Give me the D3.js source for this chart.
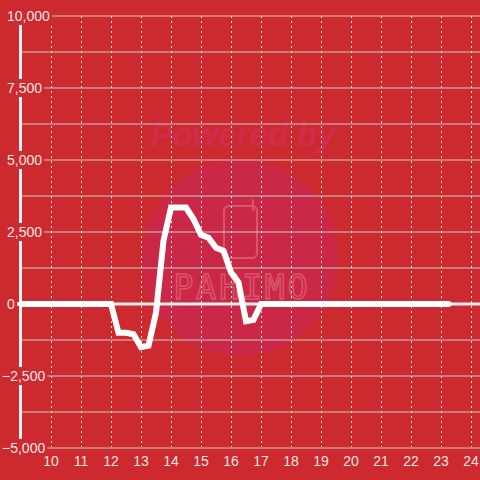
<!DOCTYPE html>
<html>
<head>
<meta charset="utf-8">
<script src="https://cdn.jsdelivr.net/npm/d3@7"></script>
<style>
  html, body { margin: 0; padding: 0; background: #cc2a2e; }
  svg { display: block; }
</style>
</head>
<body>
<div id="chart"></div>
<script>
// data
const hours = [9, 12, 12.25, 12.5, 12.75, 13, 13.25, 13.5, 13.75, 14, 14.25, 14.5, 14.75,
  15, 15.25, 15.5, 15.75, 16, 16.25, 16.5, 16.75, 17, 23.25];
const values = [0, 0, -1000, -1000, -1050, -1500, -1450, -300, 2200, 3350, 3350, 3350, 2950,
  2400, 2300, 1950, 1850, 1100, 750, -600, -550, 0, 0];
const xTicks = [10, 11, 12, 13, 14, 15, 16, 17, 18, 19, 20, 21, 22, 23, 24];
const yTicks = [10000, 7500, 5000, 2500, 0, -2500, -5000];
const yGrid = [10000, 8750, 7500, 6250, 5000, 3750, 2500, 1250, 0, -1250, -2500, -3750, -5000];

const width = 480, height = 480;
const bg = '#cc2a2e';
const font = '"Liberation Sans", Arial, sans-serif';

const svg = d3.select('#chart').append('svg')
  .attr('width', width)
  .attr('height', height);

svg.append('rect').attr('width', width).attr('height', height).attr('fill', bg);

const x = d3.scaleLinear().domain([9, 24.3]).range([21, 480]);
const y = d3.scaleLinear().domain([-5000, 10000]).range([448, 16]);

// watermark
const wm = svg.append('g').attr('class', 'watermark');
wm.append('circle').attr('cx', 240).attr('cy', 258).attr('r', 98).attr('fill', '#cb2848');
wm.append('text')
  .attr('x', 243).attr('y', 146)
  .attr('text-anchor', 'middle')
  .style('font', 'italic bold 33px ' + font)
  .attr('fill', '#d02c4b')
  .text('Powered by');
wm.append('rect')
  .attr('x', 224).attr('y', 206).attr('width', 33).attr('height', 52).attr('rx', 5)
  .attr('fill', 'none').attr('stroke', '#d9566a').attr('stroke-width', 2);
wm.append('line')
  .attr('x1', 253).attr('y1', 200).attr('x2', 253).attr('y2', 210)
  .attr('stroke', '#d9566a').attr('stroke-width', 2).attr('stroke-linecap', 'round');
wm.append('text')
  .attr('x', 242).attr('y', 299)
  .attr('text-anchor', 'middle')
  .style('font', '33px "DejaVu Sans Mono", monospace')
  .attr('letter-spacing', 3)
  .attr('fill', 'none').attr('stroke', '#d9566a').attr('stroke-width', 1.5)
  .text('PAHIMO');

// horizontal grid
svg.append('g').selectAll('line')
  .data(yGrid)
  .enter().append('line')
  .attr('x1', 21).attr('x2', width)
  .attr('y1', d => y(d)).attr('y2', d => y(d))
  .attr('stroke', '#c9c9c9').attr('stroke-width', 1);

// vertical dashed grid
svg.append('g').selectAll('line')
  .data(xTicks)
  .enter().append('line')
  .attr('x1', d => Math.round(x(d)) + 0.5).attr('x2', d => Math.round(x(d)) + 0.5)
  .attr('y1', y(10000)).attr('y2', y(-5000) - 1)
  .attr('stroke', '#e6e6e6').attr('stroke-width', 1)
  .attr('stroke-dasharray', '2,3');

// y axis bar and zero line
svg.append('line')
  .attr('x1', 20.5).attr('x2', 20.5).attr('y1', y(10000)).attr('y2', y(-5000))
  .attr('stroke', '#f2f2f2').attr('stroke-width', 3);
svg.append('line')
  .attr('x1', 17).attr('x2', width).attr('y1', y(0)).attr('y2', y(0))
  .attr('stroke', '#f2f2f2').attr('stroke-width', 3);

// y labels with background boxes
const yLab = svg.append('g').selectAll('g')
  .data(yTicks)
  .enter().append('g');
yLab.append('text')
  .attr('x', d => d < 0 ? 2 : 7)
  .attr('y', d => y(d) + 5)
  .style('font', '14px ' + font)
  .attr('fill', '#f5e4e4')
  .text(d => d3.format(',')(d));
yLab.each(function() {
  const g = d3.select(this);
  const b = g.select('text').node().getBBox();
  g.insert('rect', 'text')
    .attr('x', b.x - 1).attr('y', b.y - 1)
    .attr('width', b.width + 3).attr('height', b.height + 2)
    .attr('fill', bg);
});

// x labels
svg.append('g').selectAll('text')
  .data(xTicks)
  .enter().append('text')
  .attr('x', d => x(d))
  .attr('y', 466)
  .attr('text-anchor', 'middle')
  .style('font', '14px ' + font)
  .attr('fill', '#f5e4e4')
  .text(d => d);

// data line
const pts = hours.map((h, i) => [h, values[i]]);
svg.append('path')
  .datum(pts)
  .attr('fill', 'none')
  .attr('stroke', '#ffffff')
  .attr('stroke-width', 6)
  .attr('stroke-linecap', 'round')
  .attr('d', d3.line().x(d => x(d[0])).y(d => y(d[1])));
</script>
</body>
</html>
